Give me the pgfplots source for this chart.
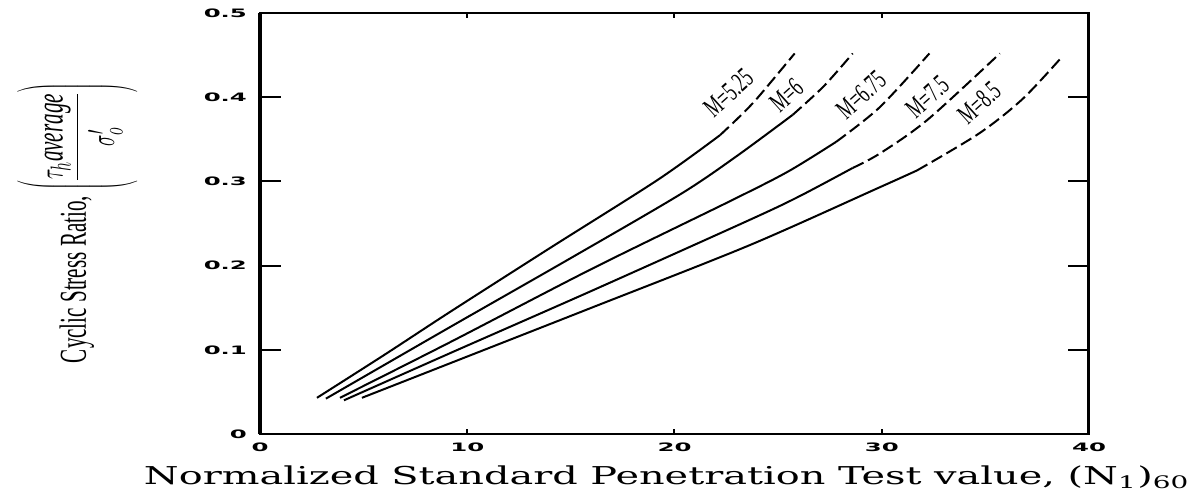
\documentclass[border=0pt]{standalone}
\usepackage{pgfplots}
\pgfplotsset{compat=1.18}
\usepackage{fontspec}
\usepackage{graphicx}
\setmainfont{Liberation Serif}
\setsansfont{DejaVu Sans}
\newfontfamily\dvserif{DejaVu Serif}
\newcommand{\tl}[1]{\scalebox{2.1}[1]{\sffamily\bfseries\fontsize{5.8}{6}\selectfont #1}}
\newcommand{\ml}[1]{\scalebox{0.62}[1]{\fontsize{14}{16}\selectfont #1}}
\begin{document}
\begin{tikzpicture}
\useasboundingbox (-130pt,-33pt) rectangle (468pt,217pt);
\begin{axis}[
  width=414.5pt, height=210.5pt, scale only axis,
  xmin=0, xmax=40, ymin=0, ymax=0.5,
  xtick={0,10,20,30,40},
  xticklabels={\tl{0},\tl{10},\tl{20},\tl{30},\tl{40}},
  ytick={0,0.1,0.2,0.3,0.4,0.5},
  yticklabels={\tl{0},\tl{0.1},\tl{0.2},\tl{0.3},\tl{0.4},\tl{0.5}},
  tick align=inside, major tick length=2.5pt,
  ytick style={draw=none},
  xtick style={line width=1pt, black},
  axis line style={line width=1pt},
  yticklabel style={xshift=-3pt},
  xticklabel style={yshift=-1pt},
  clip=false,
]
% M = 5.25
\addplot[black, line width=1pt, smooth] coordinates {(2.75,0.043) (6,0.094) (9.17,0.145) (14,0.221) (19.2,0.302) (22.2,0.355)};
\addplot[black, line width=1pt, smooth, dash pattern=on 6pt off 2.5pt] coordinates {(22.2,0.355) (23.1,0.376) (24.0,0.399) (25.8,0.452)};
% M = 6
\addplot[black, line width=1pt, smooth] coordinates {(3.18,0.042) (9.17,0.127) (15,0.209) (20.3,0.285) (23.0,0.330) (25.7,0.379)};
\addplot[black, line width=1pt, smooth, dash pattern=on 6pt off 2.5pt] coordinates {(25.7,0.379) (27.2,0.413) (28.6,0.452)};
% M = 6.75
\addplot[black, line width=1pt, smooth] coordinates {(3.86,0.043) (9.17,0.109) (16,0.196) (22.8,0.278) (25.5,0.312) (27.8,0.347)};
\addplot[black, line width=1pt, smooth, dash pattern=on 6pt off 2.5pt] coordinates {(27.8,0.347) (29.9,0.388) (32.3,0.452)};
% M = 7.5
\addplot[black, line width=1pt, smooth] coordinates {(4.05,0.040) (9.17,0.096) (16,0.170) (23.6,0.254) (26.0,0.282) (28.6,0.316)};
\addplot[black, line width=1pt, smooth, dash pattern=on 6pt off 2.5pt] coordinates {(28.6,0.316) (29.9,0.333) (32.2,0.373) (35.7,0.452)};
% M = 8.5
\addplot[black, line width=1pt, smooth] coordinates {(4.92,0.043) (9.17,0.084) (16,0.150) (23.6,0.224) (29.9,0.293) (31.7,0.313)};
\addplot[black, line width=1pt, smooth, dash pattern=on 6pt off 2.5pt] coordinates {(31.7,0.313) (34.7,0.357) (36.8,0.398) (38.7,0.448)};
% y ticks
\draw[line width=1pt] (axis cs:0,0.1) -- ++(10.5pt,0);
\draw[line width=1pt] (axis cs:0,0.2) -- ++(10.5pt,0);
\draw[line width=1pt] (axis cs:0,0.3) -- ++(10.5pt,0);
\draw[line width=1pt] (axis cs:0,0.4) -- ++(10.5pt,0);
\draw[line width=1pt] (axis cs:40,0.1) -- ++(-10.5pt,0);
\draw[line width=1pt] (axis cs:40,0.2) -- ++(-10.5pt,0);
\draw[line width=1pt] (axis cs:40,0.3) -- ++(-10.5pt,0);
\draw[line width=1pt] (axis cs:40,0.4) -- ++(-10.5pt,0);
\draw[line width=2pt] (rel axis cs:0,0) -- (rel axis cs:0,1);
\draw[line width=1.5pt] (rel axis cs:1,0) -- (rel axis cs:1,1);
% curve labels
\node[rotate=42, inner sep=0pt] at (axis cs:22.6,0.405) {\ml{M=5.25}};
\node[rotate=42, inner sep=0pt] at (axis cs:25.4,0.402) {\ml{M=6}};
\node[rotate=42, inner sep=0pt] at (axis cs:29.0,0.403) {\ml{M=6.75}};
\node[rotate=42, inner sep=0pt] at (axis cs:32.2,0.400) {\ml{M=7.5}};
\node[rotate=42, inner sep=0pt] at (axis cs:34.7,0.393) {\ml{M=8.5}};
\end{axis}
\node[rotate=90, anchor=base, inner sep=0pt] at (-87pt,105.5pt) {\resizebox{140pt}{\height}{\fontsize{19}{22}\selectfont Cyclic Stress Ratio, $\left(\rule[-26pt]{0pt}{62pt}\displaystyle\frac{\tau_h \mathit{average}\rule[-5pt]{0pt}{5pt}}{\rule{0pt}{17pt}\sigma'_o}\right)$}};
\node[anchor=base, inner sep=0pt] at (203.5pt,-25pt) {\resizebox{523pt}{\height}{\dvserif\fontsize{12.3}{14}\selectfont Normalized Standard Penetration Test value, (N\textsubscript{1})\textsubscript{60}}};
\end{tikzpicture}
\end{document}
